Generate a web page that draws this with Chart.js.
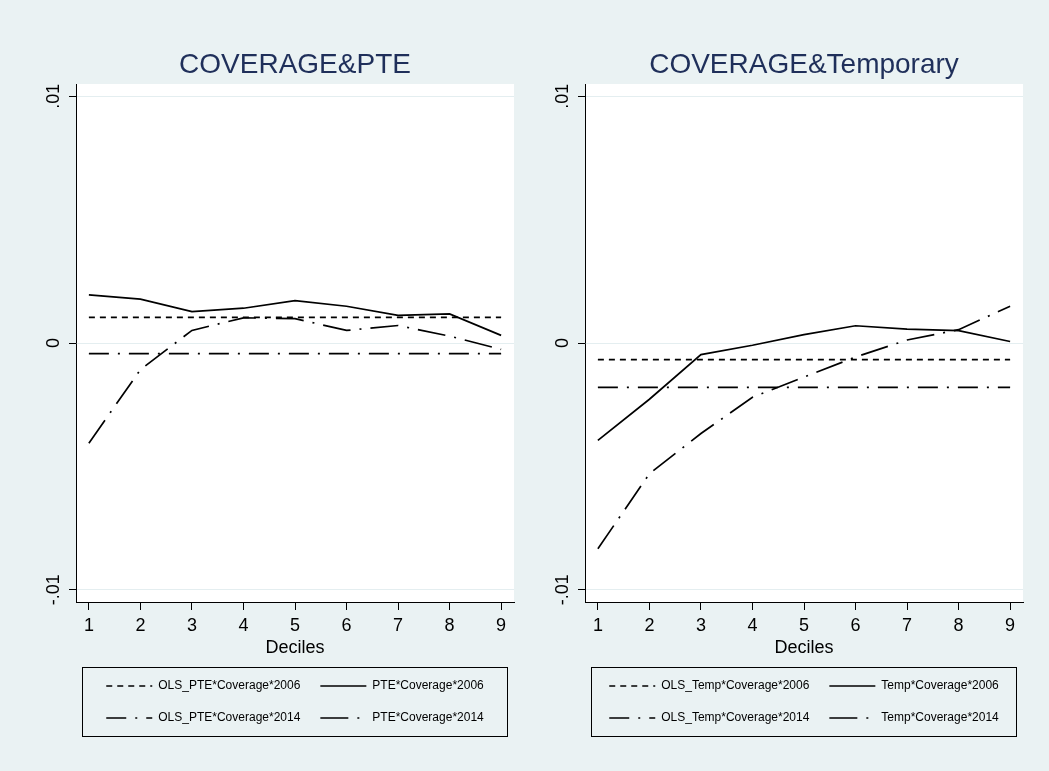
<!DOCTYPE html>
<html>
<head>
<meta charset="utf-8">
<script src="https://cdn.jsdelivr.net/npm/chart.js@4.4.1/dist/chart.umd.min.js"></script>
<style>
    body { margin: 0; background: #eaf2f3; }
    canvas { position: absolute; top: 0; }
    #pteChart { left: 0; }
    #tempChart { left: 525px; }
</style>
</head>
<body>
<canvas id="pteChart" width="525" height="771"></canvas>
<canvas id="tempChart" width="524" height="771"></canvas>
<script>
const deciles = [1, 2, 3, 4, 5, 6, 7, 8, 9];
const yTickValues = [-0.01, 0, 0.01];
const yTickLabels = ["-.01", "0", ".01"];

// COVERAGE&PTE
const olsPte2006 = [0.00104, 0.00104, 0.00104, 0.00104, 0.00104, 0.00104, 0.00104, 0.00104, 0.00104];
const pte2006 = [0.00195, 0.00178, 0.00127, 0.00141, 0.00172, 0.00149, 0.00112, 0.00118, 0.00031];
const olsPte2014 = [-0.00043, -0.00043, -0.00043, -0.00043, -0.00043, -0.00043, -0.00043, -0.00043, -0.00043];
const pte2014 = [-0.00406, -0.00108, 0.00051, 0.00102, 0.00099, 0.00051, 0.00071, 0.00028, -0.00026];

// COVERAGE&Temporary
const olsTemp2006 = [-0.00067, -0.00067, -0.00067, -0.00067, -0.00067, -0.00067, -0.00067, -0.00067, -0.00067];
const temp2006 = [-0.00395, -0.00228, -0.00047, -0.00009, 0.00034, 0.00070, 0.00056, 0.00050, 0.00006];
const olsTemp2014 = [-0.00180, -0.00180, -0.00180, -0.00180, -0.00180, -0.00180, -0.00180, -0.00180, -0.00180];
const temp2014 = [-0.00834, -0.00530, -0.00367, -0.00220, -0.00138, -0.00057, 0.00012, 0.00054, 0.00149];

const FONT = "'Liberation Sans', Arial, sans-serif";
Chart.defaults.font.family = FONT;
Chart.defaults.color = "#000";

const dashShort = [6, 5];
const dashDot = [20, 9, 2, 9];
const longDashDot = [28, 9, 2, 9];
const LINE_WIDTH = 1.7;

const plotBackground = {
    id: "plotBackground",
    beforeDraw(chart) {
        const { ctx, chartArea } = chart;
        ctx.save();
        ctx.fillStyle = "#ffffff";
        ctx.fillRect(chartArea.left, chartArea.top,
            chartArea.right - chartArea.left, chartArea.bottom - chartArea.top);
        ctx.restore();
    }
};

const legendFrame = {
    id: "legendFrame",
    afterDraw(chart) {
        const { ctx, chartArea, legend } = chart;
        ctx.save();
        ctx.strokeStyle = "#000";
        ctx.lineWidth = 1;
        ctx.strokeRect(chartArea.left + 6.5, legend.top + 7.5,
            chartArea.right - chartArea.left - 13, legend.bottom - legend.top - 5);
        ctx.restore();
    }
};

function toPoints(values) {
    return deciles.map((d, i) => ({ x: d, y: values[i] }));
}

function makeLine(label, values, dash) {
    return {
        label,
        data: toPoints(values),
        borderColor: "#000",
        backgroundColor: "#000",
        borderWidth: LINE_WIDTH,
        borderDash: dash,
        pointRadius: 0,
        tension: 0,
        fill: false
    };
}

// legend samples keep the dash pattern of their dataset
function legendLabels(chart) {
    const items = Chart.defaults.plugins.legend.labels.generateLabels(chart);
    return items.map(item => {
        const ds = chart.data.datasets[item.datasetIndex];
        return {
            ...item,
            lineDash: ds.borderDash,
            lineWidth: LINE_WIDTH,
            strokeStyle: "#000",
            fillStyle: "#000"
        };
    });
}

function drawPanel(canvasId, title, datasets, padLeft, padRight) {
    return new Chart(document.getElementById(canvasId), {
        type: "line",
        data: { datasets },
        plugins: [plotBackground, legendFrame],
        options: {
            responsive: false,
            animation: false,
            devicePixelRatio: 1,
            layout: {
                padding: { left: padLeft, right: padRight, top: 0, bottom: 37 }
            },
            scales: {
                x: {
                    type: "linear",
                    min: 0.75,
                    max: 9.25,
                    afterBuildTicks: (scale) => {
                        scale.ticks = deciles.map(v => ({ value: v }));
                    },
                    afterFit: (scale) => { scale.height = 58; },
                    ticks: {
                        font: { size: 18 },
                        color: "#000",
                        padding: 5,
                        maxRotation: 0,
                        callback: (v) => String(v)
                    },
                    grid: {
                        drawOnChartArea: false,
                        drawTicks: true,
                        tickLength: 8,
                        tickColor: "#000"
                    },
                    border: { display: true, color: "#000", width: 1 },
                    title: {
                        display: true,
                        text: "Deciles",
                        font: { size: 18 },
                        color: "#000",
                        padding: { top: 0, bottom: 1 }
                    }
                },
                y: {
                    type: "linear",
                    min: -0.0105,
                    max: 0.0105,
                    afterBuildTicks: (scale) => {
                        scale.ticks = yTickValues.map(v => ({ value: v }));
                    },
                    afterFit: (scale) => { scale.width = 40; },
                    ticks: {
                        font: { size: 18 },
                        color: "#000",
                        padding: -1,
                        minRotation: 90,
                        maxRotation: 90,
                        crossAlign: "center",
                        callback: (v) => yTickLabels[yTickValues.indexOf(v)]
                    },
                    grid: {
                        color: "#e4eef0",
                        lineWidth: 1,
                        tickLength: 7,
                        tickColor: "#000"
                    },
                    border: { display: true, color: "#000", width: 1 }
                }
            },
            plugins: {
                title: {
                    display: true,
                    text: title,
                    fullSize: false,
                    color: "#1f2f5a",
                    font: { size: 28, weight: "normal" },
                    padding: { top: 48, bottom: 2.4 }
                },
                legend: {
                    position: "bottom",
                    fullSize: false,
                    labels: {
                        usePointStyle: true,
                        pointStyle: "line",
                        pointStyleWidth: 46,
                        padding: 20,
                        color: "#000",
                        font: { size: 12 },
                        generateLabels: legendLabels
                    }
                },
                tooltip: { enabled: false }
            }
        }
    });
}

drawPanel("pteChart", "COVERAGE&PTE", [
    makeLine("OLS_PTE*Coverage*2006", olsPte2006, dashShort),
    makeLine("PTE*Coverage*2006", pte2006, []),
    makeLine("OLS_PTE*Coverage*2014", olsPte2014, dashDot),
    makeLine("PTE*Coverage*2014", pte2014, longDashDot)
], 36, 11);

drawPanel("tempChart", "COVERAGE&Temporary", [
    makeLine("OLS_Temp*Coverage*2006", olsTemp2006, dashShort),
    makeLine("Temp*Coverage*2006", temp2006, []),
    makeLine("OLS_Temp*Coverage*2014", olsTemp2014, dashDot),
    makeLine("Temp*Coverage*2014", temp2014, longDashDot)
], 20, 26);
</script>
</body>
</html>
